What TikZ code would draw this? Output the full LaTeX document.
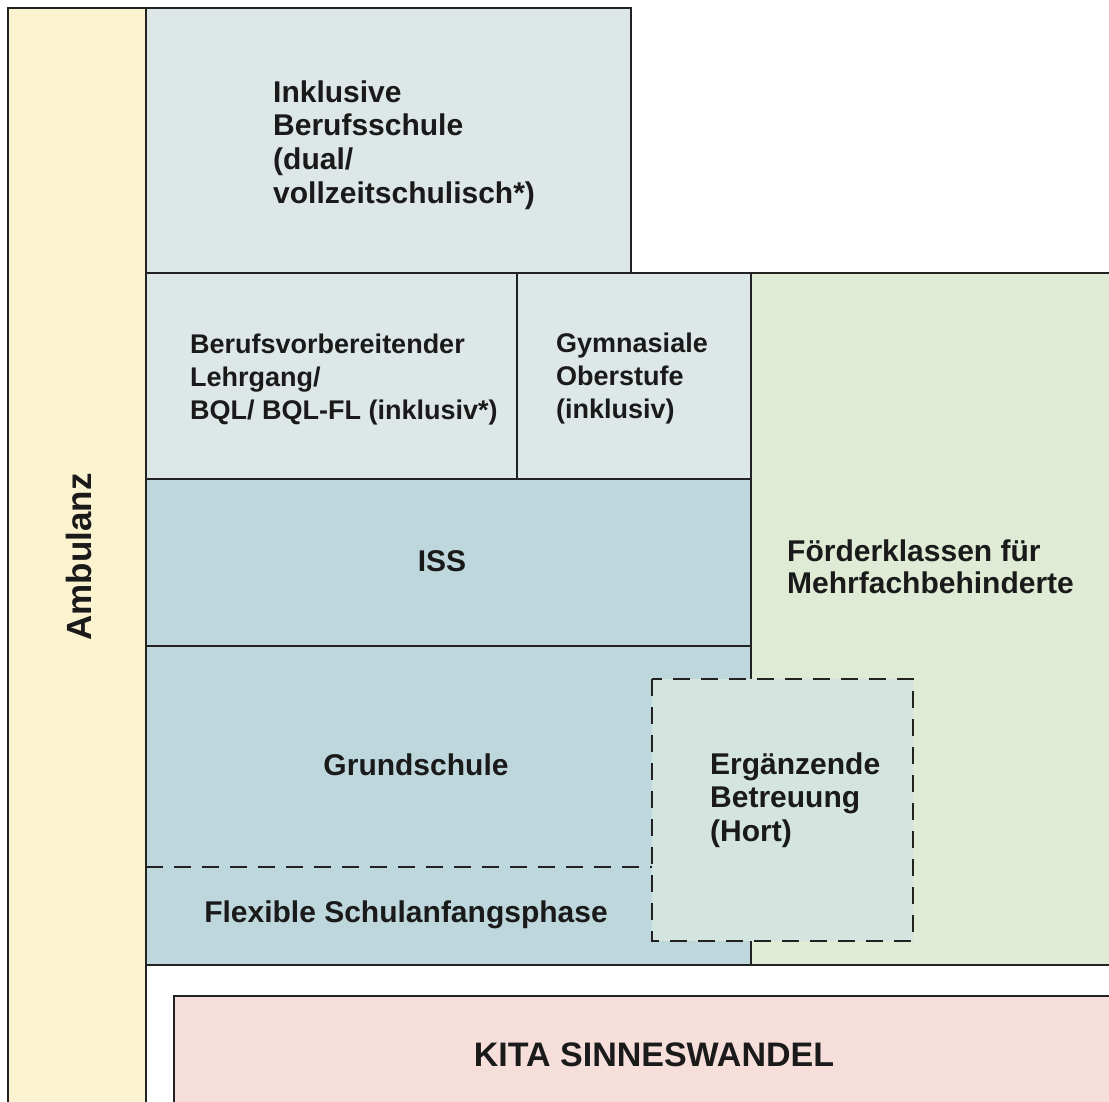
\documentclass[tikz,border=0pt]{standalone}
\usepackage{fontspec}
\setmainfont{Liberation Sans}
\definecolor{cAmb}{HTML}{FBF3D0}
\definecolor{cBer}{HTML}{DDE7E7}
\definecolor{cIss}{HTML}{BDD7DC}
\definecolor{cFoe}{HTML}{DFEBD5}
\definecolor{cKita}{HTML}{F6DEDB}
\definecolor{cHort}{HTML}{D4E4DF}
\definecolor{cLine}{HTML}{222222}
\definecolor{cText}{HTML}{1A1A1A}
\tikzset{
  border/.style={draw=cLine, line width=1.8pt},
  dashborder/.style={draw=cLine, line width=1.8pt, dash pattern=on 17pt off 11pt},
  lbl/.style={text=cText, font=\bfseries\fontsize{30}{33.6}\selectfont, inner sep=0pt},
  lblS/.style={lbl, font=\bfseries\fontsize{27}{33}\selectfont},
  lblL/.style={lbl, align=left, anchor=west},
}
\begin{document}
\begin{tikzpicture}[x=1pt,y=-1pt]
\useasboundingbox (0,0) rectangle (1109,1102);
% fills
\fill[cAmb] (8,8) rectangle (146,1102);
\fill[cBer] (146,8) rectangle (631,273);
\fill[cBer] (146,273) rectangle (751,479);
\fill[cIss] (146,479) rectangle (751,965);
\fill[cFoe] (751,273) rectangle (1109,965);
\fill[cKita] (174,996) rectangle (1109,1102);
% borders
\draw[border] (8,1102) -- (8,8) -- (631,8) -- (631,273);
\draw[border] (146,8) -- (146,1102);
\draw[border] (146,273) -- (1109,273);
\draw[border] (517,273) -- (517,479);
\draw[border] (751,273) -- (751,965);
\draw[border] (146,479) -- (751,479);
\draw[border] (146,646) -- (751,646);
\draw[border] (146,965) -- (1109,965);
\draw[border] (174,1102) -- (174,996) -- (1109,996);
% dashed
\draw[dashborder] (146,867) -- (652,867);
\fill[cHort] (652,679) rectangle (913,941);
\draw[dashborder] (652,679) rectangle (913,941);
% texts
\node[lblL] (beruf) at (273,145) {Inklusive\\Berufsschule\\(dual/\\vollzeitschulisch*)};
\node[lblL, lblS, align=left, anchor=west] (bvl) at (190,380) {Berufsvorbereitender\\Lehrgang/\\BQL/ BQL-FL (inklusiv*)};
\node[lblL, lblS, align=left, anchor=west] (gym) at (556,379) {Gymnasiale\\Oberstufe\\(inklusiv)};
\node[lbl] (iss) at (442,561) {ISS};
\node[lblL, font=\bfseries\fontsize{30}{32.5}\selectfont] (foe) at (787,567) {Förderklassen für\\Mehrfachbehinderte};
\node[lbl] (gs) at (416,765) {Grundschule};
\node[lblL] (hort) at (710,800) {Ergänzende\\Betreuung\\(Hort)};
\node[lbl] (flex) at (406,915) {Flexible Schulanfangsphase};
\node[lbl, font=\bfseries\fontsize{34}{40}\selectfont] (kita) at (654,1055) {KITA SINNESWANDEL};
\node[lbl, rotate=90, font=\bfseries\fontsize{35}{40}\selectfont] (amb) at (79,557) {Ambulanz};
\end{tikzpicture}
\end{document}
